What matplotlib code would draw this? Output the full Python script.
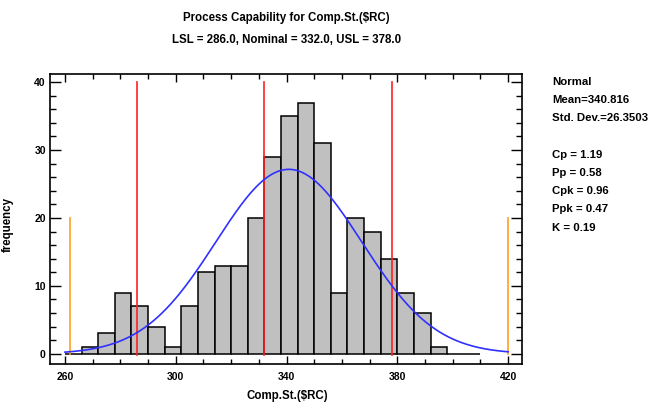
import numpy as np
import matplotlib
matplotlib.use("Agg")
import matplotlib.pyplot as plt
from matplotlib.ticker import MultipleLocator

plt.rcParams['font.family'] = ['Liberation Sans', 'DejaVu Sans']

# Data
bin_start, bin_width = 260, 6
counts = [0, 1, 3, 9, 7, 4, 1, 7, 12, 13, 13, 20, 29, 35, 37, 31, 9, 20, 18, 14, 9, 6, 1, 0, 0]
mean, sd = 340.816, 26.3503
lsl, nominal, usl = 286.0, 332.0, 378.0
stats_lines = ["Normal", "Mean=340.816", "Std. Dev.=26.3503", "",
               "Cp = 1.19", "Pp = 0.58", "Cpk = 0.96", "Ppk = 0.47", "K = 0.19"]
title1 = "Process Capability for Comp.St.($RC)"
title2 = "LSL = 286.0, Nominal = 332.0, USL = 378.0"
xlabel = "Comp.St.($RC)"
ylabel = "frequency"
xticks = [260, 300, 340, 380, 420]
yticks = [0, 10, 20, 30, 40]

edges = bin_start + bin_width * np.arange(len(counts) + 1)
n_total = sum(counts)

W, H = 650, 407
fig = plt.figure(figsize=(6.5, 4.07), dpi=100)
ax = fig.add_axes([50/W, 1-364/H, 472/W, 290/H])

ax.bar(edges[:-1], counts, width=bin_width, align='edge', color='#c0c0c0',
       edgecolor='black', linewidth=1.1, zorder=2)

for v in (lsl, nominal, usl):
    ax.plot([v, v], [-0.2, 40], color='#ff2020', linewidth=1.2, zorder=3)
for v in (mean - 3*sd, mean + 3*sd):
    ax.plot([v, v], [0, 20], color='#ffa020', linewidth=1.2, zorder=3)

xs = np.linspace(260, 420, 400)
ys = n_total * bin_width / (sd * np.sqrt(2*np.pi)) * np.exp(-0.5*((xs-mean)/sd)**2)
ax.plot(xs, ys, color='#3030ff', linewidth=1.2, zorder=4)

ax.set_xlim(254.6, 425)
ax.set_ylim(-1.5, 41.2)
ax.set_xticks(xticks)
ax.set_yticks(yticks)
ax.xaxis.set_minor_locator(MultipleLocator(10))
ax.yaxis.set_minor_locator(MultipleLocator(2))
ax.tick_params(which='both', direction='in', top=True, right=True, width=1, labelsize=7.5)
ax.tick_params(axis='x', which='major', length=5.5, pad=6)
ax.tick_params(axis='x', which='minor', length=3.5)
ax.tick_params(axis='y', which='major', length=8, pad=3)
ax.tick_params(axis='y', which='minor', length=4)
for lab in ax.get_xticklabels() + ax.get_yticklabels():
    lab.set_fontweight('bold')
for s in ax.spines.values():
    s.set_linewidth(1.2)

fig.text(287/W, 1-396/H, xlabel, ha='center', va='center', fontsize=8.3, fontweight='bold')
fig.text(8/W, 1-224/H, ylabel, ha='center', va='center', rotation=90, fontsize=8.3, fontweight='bold')

fig.text(286/W, 1-18/H, title1, ha='center', va='center', fontsize=8.3, fontweight='bold')
fig.text(287/W, 1-40/H, title2, ha='center', va='center', fontsize=8.3, fontweight='bold')

y0, dy = 82, 18.2
for i, line in enumerate(stats_lines):
    fig.text(552/W, 1-(y0 + i*dy)/H, line, ha='left', va='center', fontsize=8.2, fontweight='bold')

fig.savefig("out.png", dpi=100)
